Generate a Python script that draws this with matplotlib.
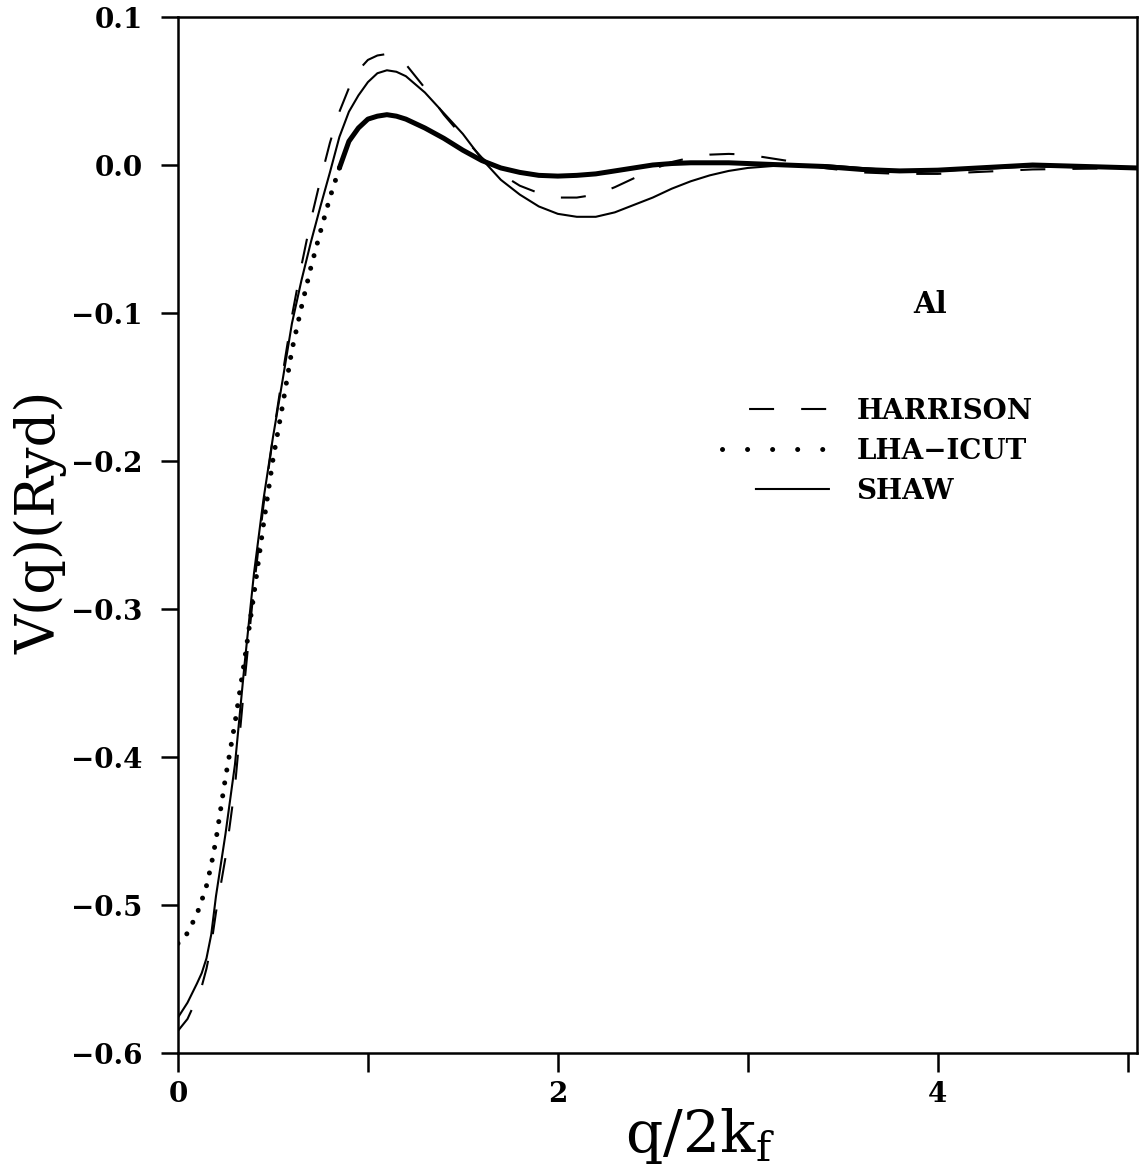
import matplotlib.pyplot as plt
from matplotlib.lines import Line2D

# ---- data (V(q) in Ryd vs q/2kf) ----
q = [0, 0.05, 0.1, 0.125, 0.15, 0.175, 0.2, 0.25, 0.3, 0.35, 0.4, 0.45, 0.5, 0.55,
     0.6, 0.65, 0.7, 0.75, 0.8, 0.85, 0.9, 0.95, 1.0, 1.05, 1.1, 1.15, 1.2, 1.3,
     1.4, 1.5, 1.6, 1.7, 1.8, 1.9, 2.0, 2.1, 2.2, 2.3, 2.4, 2.5, 2.6, 2.7, 2.8,
     2.9, 3.0, 3.2, 3.4, 3.6, 3.8, 4.0, 4.5, 5.05]

harrison = [-0.585, -0.577, -0.563, -0.555, -0.543, -0.527, -0.505, -0.468, -0.420,
            -0.350, -0.285, -0.230, -0.184, -0.142, -0.102, -0.068, -0.037, -0.010,
            0.015, 0.036, 0.052, 0.064, 0.071, 0.074, 0.075, 0.073, 0.068, 0.052,
            0.034, 0.019, 0.005, -0.006, -0.014, -0.019, -0.022, -0.022, -0.020,
            -0.015, -0.009, -0.003, 0.002, 0.005, 0.007, 0.0075, 0.007, 0.003,
            -0.002, -0.005, -0.006, -0.006, -0.003, -0.002]

lha_icut = [-0.526, -0.519, -0.506, -0.497, -0.487, -0.473, -0.456, -0.414, -0.377,
            -0.335, -0.290, -0.243, -0.199, -0.163, -0.125, -0.096, -0.069, -0.045,
            -0.022, -0.002, 0.016, 0.025, 0.031, 0.033, 0.034, 0.033, 0.031, 0.025,
            0.018, 0.010, 0.003, -0.002, -0.005, -0.007, -0.0075, -0.007, -0.006,
            -0.004, -0.002, 0.000, 0.001, 0.0015, 0.0015, 0.0015, 0.001, 0.000,
            -0.001, -0.003, -0.004, -0.0035, 0.000, -0.002]

shaw = [-0.576, -0.566, -0.553, -0.546, -0.536, -0.520, -0.494, -0.452, -0.405,
        -0.338, -0.276, -0.226, -0.184, -0.146, -0.107, -0.078, -0.052, -0.028,
        -0.005, 0.019, 0.036, 0.047, 0.056, 0.062, 0.064, 0.063, 0.060, 0.049,
        0.035, 0.021, 0.004, -0.010, -0.020, -0.028, -0.033, -0.035, -0.035,
        -0.032, -0.027, -0.022, -0.016, -0.011, -0.007, -0.004, -0.002, 0.000,
        0.000, -0.002, -0.004, -0.004, -0.001, -0.002]

yticks = [0.1, 0.0, -0.1, -0.2, -0.3, -0.4, -0.5, -0.6]
ytick_labels = ["0.1", "0.0", "\u22120.1", "\u22120.2", "\u22120.3", "\u22120.4",
                "\u22120.5", "\u22120.6"]
xticks = [0, 2, 4]
xticks_minor = [1, 3, 5]
labels = ["HARRISON", "LHA\u2212ICUT", "SHAW"]

plt.rcParams['font.family'] = 'DejaVu Serif'
plt.rcParams['mathtext.fontset'] = 'dejavuserif'

fig = plt.figure(figsize=(11.45, 11.69), dpi=100)
ax = fig.add_axes([178 / 1145, 1 - 1053 / 1169, (1137 - 178) / 1145, (1053 - 17) / 1169])

# curves
dash = (0, (12, 13))
ax.plot(q, harrison, color='k', lw=1.5, linestyle=dash)
n = q.index(0.85) + 1  # dotted up to q=0.85, then the dots merge into a thick band
ax.plot(q[:n], lha_icut[:n], color='k', lw=3.6, linestyle=(0, (0.01, 2.6)),
        dash_capstyle='round')
ax.plot(q[n - 1:], lha_icut[n - 1:], color='k', lw=3.6, solid_capstyle='round')
ax.plot(q, shaw, color='k', lw=1.5)

ax.set_xlim(0, 5.05)
ax.set_ylim(-0.6, 0.1)
ax.set_xticks(xticks)
ax.set_xticks(xticks_minor, minor=True)
ax.set_yticks(yticks)
ax.set_yticklabels(ytick_labels)

ax.tick_params(axis='y', which='major', direction='out', length=12.5, width=1.8,
               pad=13, labelsize=20)
ax.tick_params(axis='x', which='both', direction='out', length=14, width=1.8,
               pad=6, labelsize=20)
for t in ax.get_xticklabels() + ax.get_yticklabels():
    t.set_fontweight('bold')
for s in ax.spines.values():
    s.set_linewidth(1.8)

# legend (proxy handles so the patterns look like the original)
h1 = Line2D([], [], color='k', lw=1.5, linestyle=(12, (12, 13)))
h2 = Line2D([], [], color='k', lw=3.6, linestyle=(0, (0.01, 5.0)), dash_capstyle='round')
h3 = Line2D([], [], color='k', lw=1.5, linestyle=(36, (36, 15.8)))
ax.legend([h1, h2, h3], labels, loc='upper left',
          bbox_to_anchor=(722 / 1145, 1 - 398 / 1169), bbox_transform=fig.transFigure,
          frameon=False, borderpad=0, borderaxespad=0, handlelength=3.89,
          handletextpad=0.95, labelspacing=0.46, prop={'weight': 'bold', 'size': 20})

ax.text(3.96, -0.094, 'Al', ha='center', va='center', fontsize=21, fontweight='bold')

# axis labels
fig.text(700 / 1145, 1 - 1136 / 1169, r'q/2k$_{\rm f}$', ha='center', va='center', fontsize=42)
fig.text(41 / 1145, 1 - 522 / 1169, 'V(q)(Ryd)', rotation=90, ha='center', va='center',
         fontsize=39)

fig.savefig('out.png', dpi=100)
